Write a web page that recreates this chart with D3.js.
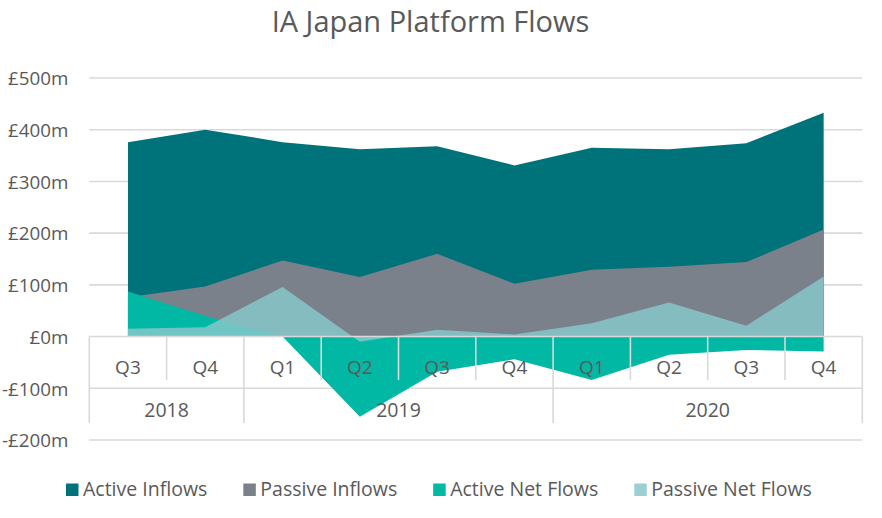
<!DOCTYPE html>
<html>
<head>
<meta charset="utf-8">
<script src="https://cdn.jsdelivr.net/npm/d3@7"></script>
<style>
  html, body { margin: 0; padding: 0; background: #ffffff; }
  svg { display: block; }
  text { font-family: "Open Sans", "Noto Sans", sans-serif; fill: #595959; }
</style>
</head>
<body>
<svg id="chart" width="882" height="518"></svg>
<script>
// ---- data ----
const title = "IA Japan Platform Flows";
const quarters = ["Q3", "Q4", "Q1", "Q2", "Q3", "Q4", "Q1", "Q2", "Q3", "Q4"];
const years    = ["2018", "2018", "2019", "2019", "2019", "2019", "2020", "2020", "2020", "2020"];
const activeInflows  = [376, 400, 376, 362, 368, 331, 365, 362, 374, 433];
const passiveInflows = [76, 97, 147, 115, 160, 102, 129, 135, 144, 207];
const activeNetFlows = [87, 40, 0, -155, -68, -44, -84, -35, -26, -29];
const passiveNetFlows = [15, 18, 96, -10, 13, 4, 26, 66, 21, 116];
const yTicks = [-200, -100, 0, 100, 200, 300, 400, 500];
const seriesNames = ["Active Inflows", "Passive Inflows", "Active Net Flows", "Passive Net Flows"];

// ---- styles ----
const colors = ["#00727A", "#7B818B", "#00B8A3", "#87C7CB"];
const opacities = [1, 1, 1, 0.84];
const gridColor = "#D9D9D9";

const svg = d3.select("#chart");
const keys = quarters.map((q, i) => years[i] + "-" + q);
const seriesValues = [activeInflows, passiveInflows, activeNetFlows, passiveNetFlows];

const x = d3.scaleBand().domain(keys).range([89.3, 862.3]).paddingInner(0).paddingOuter(0);
const y = d3.scaleLinear().domain([-200, 500]).range([440, 78]);
const cx = k => x(k) + x.bandwidth() / 2;

// gridlines (behind)
svg.append("g").selectAll("line")
  .data(yTicks.filter(t => t !== 0))
  .join("line")
  .attr("x1", x.range()[0]).attr("x2", x.range()[1])
  .attr("y1", d => y(d)).attr("y2", d => y(d))
  .attr("stroke", gridColor).attr("stroke-width", 1.6);

// areas
const area = d3.area()
  .x(d => cx(d.k))
  .y0(y(0))
  .y1(d => y(d.v));

svg.append("g").selectAll("path")
  .data(seriesValues.map((vals, si) => ({ si, pts: vals.map((v, i) => ({ k: keys[i], v })) })))
  .join("path")
  .attr("d", d => area(d.pts))
  .attr("fill", d => colors[d.si])
  .attr("fill-opacity", d => opacities[d.si]);

// category axis (on top)
const y0 = y(0);
const axisG = svg.append("g");
axisG.append("line")
  .attr("x1", x.range()[0]).attr("x2", x.range()[1])
  .attr("y1", y0).attr("y2", y0)
  .attr("stroke", gridColor).attr("stroke-width", 1.6);

// separators
const boundaries = d3.range(keys.length + 1).map(i => {
  const isEdge = i === 0 || i === keys.length;
  const isYear = isEdge || years[i] !== years[i - 1];
  const xPos = i < keys.length ? x(keys[i]) : x.range()[1];
  return { xPos, isYear };
});
axisG.selectAll("line.sep")
  .data(boundaries)
  .join("line")
  .attr("class", "sep")
  .attr("x1", d => d.xPos).attr("x2", d => d.xPos)
  .attr("y1", y0).attr("y2", d => d.isYear ? y0 + 86.5 : y0 + 43.5)
  .attr("stroke", gridColor).attr("stroke-width", 1.6);

// quarter labels
axisG.selectAll("text.q")
  .data(keys)
  .join("text")
  .attr("class", "q")
  .attr("x", d => cx(d))
  .attr("y", y0 + 37)
  .attr("text-anchor", "middle")
  .attr("font-size", 19)
  .text((d, i) => quarters[i]);

// year labels
const yearGroups = d3.groups(keys.map((k, i) => ({ k, yr: years[i] })), d => d.yr);
axisG.selectAll("text.yr")
  .data(yearGroups)
  .join("text")
  .attr("class", "yr")
  .attr("x", d => (x(d[1][0].k) + x(d[1][d[1].length - 1].k) + x.bandwidth()) / 2)
  .attr("y", y0 + 80)
  .attr("text-anchor", "middle")
  .attr("font-size", 19.5)
  .text(d => d[0]);

// y axis labels
const yAxis = d3.axisLeft(y)
  .tickValues(yTicks)
  .tickSize(0)
  .tickPadding(21)
  .tickFormat(d => (d < 0 ? "-" : "") + "£" + Math.abs(d) + "m");
const yG = svg.append("g").attr("transform", `translate(${x.range()[0]},0)`).call(yAxis);
yG.select(".domain").remove();
yG.selectAll("text")
  .attr("font-size", 18.8)
  .attr("font-family", '"Open Sans", sans-serif')
  .attr("fill", "#595959")
  .attr("dy", "0.36em");

// title
svg.append("text")
  .attr("x", 430.5).attr("y", 32)
  .attr("text-anchor", "middle")
  .attr("font-size", 29)
  .text(title);

// legend
const legend = svg.append("g");
let lx = 66;
seriesNames.forEach((name, i) => {
  legend.append("rect")
    .attr("x", lx).attr("y", 483.5)
    .attr("width", 12.5).attr("height", 12.5)
    .attr("fill", colors[i])
    .attr("fill-opacity", opacities[i]);
  const t = legend.append("text")
    .attr("x", lx + 17).attr("y", 496)
    .attr("font-size", 19.5)
    .text(name);
  const w = t.node().getComputedTextLength();
  lx = lx + 17 + w + 36;
});
</script>
</body>
</html>
